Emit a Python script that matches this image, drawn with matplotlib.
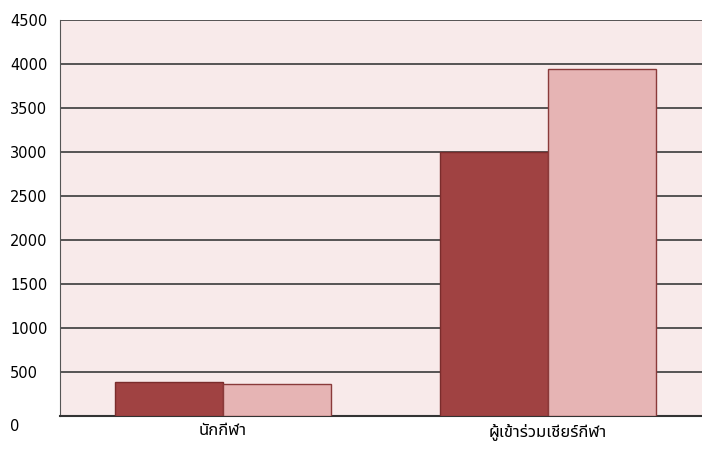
import matplotlib
matplotlib.use("Agg")
import matplotlib.pyplot as plt
import matplotlib.transforms as mtransforms
import numpy as np

# data
categories = ["นักกีฬา", "ผู้เข้าร่วมเชียร์กีฬา"]
series_a = [385, 3000]
series_b = [365, 3940]
yticks = [0, 500, 1000, 1500, 2000, 2500, 3000, 3500, 4000, 4500]

plt.rcParams['font.family'] = ['DejaVu Sans', 'Noto Sans Thai']

fig = plt.figure(figsize=(7.02, 4.5), dpi=100)
ax = fig.add_axes([60 / 702, 34 / 450, 642 / 702, 396 / 450])
ax.set_facecolor("#f8eaea")

x = np.arange(len(categories))
w = 0.332
ax.bar(x - w / 2, series_a, w, color="#a04242", edgecolor="#7a2c2c", linewidth=1, zorder=3)
ax.bar(x + w / 2, series_b, w, color="#e6b4b4", edgecolor="#8a3a3a", linewidth=1, zorder=3)

ax.set_ylim(0, 4500)
ax.set_xlim(-0.5, 1.474)
ax.set_yticks(yticks)
ax.set_yticklabels([str(v) for v in yticks], fontsize=10.5, family=['DejaVu Sans'])
ax.set_xticks(x)
ax.set_xticklabels(categories, fontsize=12, family=['Noto Sans Thai', 'DejaVu Sans'])
ax.tick_params(axis="x", length=0, pad=5)
ax.tick_params(axis="y", length=0, pad=36)
ylabels = ax.get_yticklabels()
for lab in ylabels:
    lab.set_horizontalalignment("left")
# the zero label sits a little below the baseline in the original
ylabels[0].set_transform(ylabels[0].get_transform() +
                         mtransforms.ScaledTranslation(0, -9 / 100, fig.dpi_scale_trans))

ax.grid(axis="y", color="#3a3a3a", linewidth=1.2, zorder=1)
for side in ["top", "right"]:
    ax.spines[side].set_visible(False)
ax.spines["left"].set_color("#555555")
ax.spines["bottom"].set_color("#333333")
ax.spines["bottom"].set_linewidth(1.5)

fig.savefig("out.png", dpi=100)
